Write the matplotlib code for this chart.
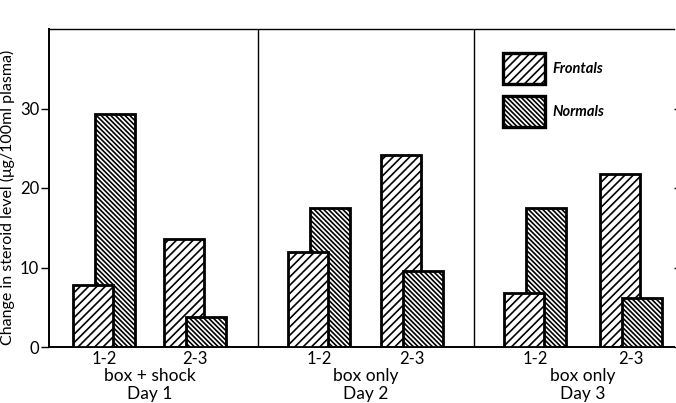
import matplotlib.pyplot as plt
from matplotlib.patches import Patch

# data
days = ["box + shock\nDay 1", "box only\nDay 2", "box only\nDay 3"]
intervals = ["1-2", "2-3", "1-2", "2-3", "1-2", "2-3"]
frontals = [7.8, 13.6, 11.9, 24.1, 6.8, 21.8]
normals = [29.3, 3.8, 17.5, 9.6, 17.5, 6.2]

# layout (x in pixel-like units along the axis)
centers = [55, 146, 270, 363, 486, 582]
dividers = [209, 425]
width = 40
off = 11

plt.rcParams['font.family'] = ['Lato', 'DejaVu Sans']
plt.rcParams['hatch.linewidth'] = 1.2

hatch_f = '////'
hatch_n = '\\\\\\\\\\\\\\'

fig = plt.figure(figsize=(6.76, 4.03), dpi=100)
ax = fig.add_axes([49 / 676, 56 / 403, 625 / 676, 318 / 403])

xf = [c - off for c in centers]
xn = [c + off for c in centers]
bf = ax.bar(xf, frontals, width, facecolor='white', edgecolor='black',
            linewidth=2.0, hatch=hatch_f)
bn = ax.bar(xn, normals, width, facecolor='white', edgecolor='black',
            linewidth=2.0, hatch=hatch_n)

# shorter bar in front
for pf, pn, f, n in zip(bf, bn, frontals, normals):
    if f < n:
        pf.set_zorder(3); pn.set_zorder(2)
    else:
        pf.set_zorder(2); pn.set_zorder(3)

for d in dividers:
    ax.axvline(d, color='black', linewidth=1.0)

ax.set_xlim(0, 625)
ax.set_ylim(0, 40)
ax.set_yticks([0, 10, 20, 30])
ax.tick_params(axis='y', length=6, width=1, labelsize=12, left=True,
               right=True, direction='out', pad=1)
ax.set_xticks(centers)
ax.set_xticklabels(intervals, fontsize=12)
ax.tick_params(axis='x', length=0, pad=3)

for s in ['left', 'bottom']:
    ax.spines[s].set_linewidth(1.4)
ax.spines['top'].set_linewidth(1.0)
ax.spines['right'].set_visible(False)

for i, lab in enumerate(days):
    xc = (centers[2 * i] + centers[2 * i + 1]) / 2
    ax.text(xc, -0.066, lab, transform=ax.get_xaxis_transform(),
            ha='center', va='top', fontsize=12.5, linespacing=1.12)

ax.set_ylabel("Change in steroid level (\u03bcg/100ml plasma)", fontsize=11.5)
ax.yaxis.set_label_coords(-0.055, 0.47)

handles = [Patch(facecolor='white', edgecolor='black', linewidth=2.4, hatch=hatch_f),
           Patch(facecolor='white', edgecolor='black', linewidth=2.4, hatch=hatch_n)]
leg = ax.legend(handles, ["Frontals", "Normals"], loc='upper left',
                bbox_to_anchor=(0.714, 0.948), frameon=False, borderpad=0,
                handlelength=2.9, handleheight=2.9, labelspacing=0.85,
                handletextpad=0.5, prop={'style': 'italic', 'weight': 'bold', 'size': 10.5})

fig.savefig("out.png", dpi=100)
